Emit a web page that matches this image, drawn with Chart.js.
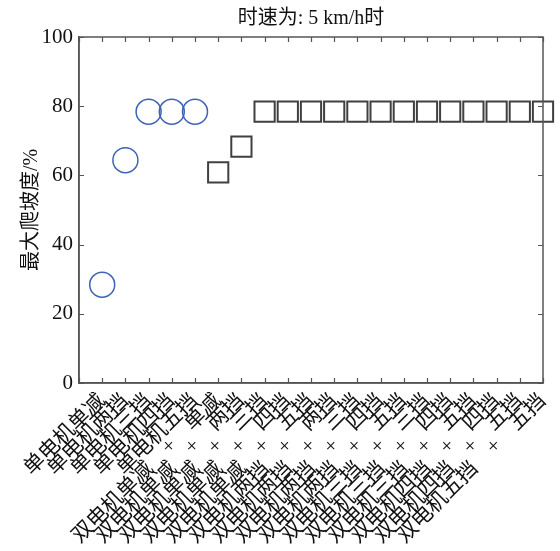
<!DOCTYPE html>
<html>
<head>
<meta charset="utf-8">
<script src="https://cdn.jsdelivr.net/npm/chart.js@4.4.0/dist/chart.umd.min.js"></script>
<style>
  html, body { margin: 0; padding: 0; background: #ffffff; }
  #c { display: block; }
</style>
</head>
<body>
<canvas id="c" width="560" height="551" style="width:560px;height:551px;"></canvas>
<script>
const titleText = '时速为: 5 km/h时';
const yTitle = '最大爬坡度/%';
const categories = [
  '单电机单减', '单电机两挡', '单电机三挡', '单电机四挡', '单电机五挡',
  '双电机单减+单减', '双电机单减+两挡', '双电机单减+三挡', '双电机单减+四挡', '双电机单减+五挡',
  '双电机两挡+两挡', '双电机两挡+三挡', '双电机两挡+四挡', '双电机两挡+五挡',
  '双电机三挡+三挡', '双电机三挡+四挡', '双电机三挡+五挡',
  '双电机四挡+四挡', '双电机四挡+五挡', '双电机五挡+五挡'
];
const singleMotorValues = [28.4, 64.4, 78.4, 78.4, 78.4];
const dualMotorValues = [60.9, 68.3, 78.4, 78.4, 78.4, 78.4, 78.4, 78.4, 78.4, 78.4, 78.4, 78.4, 78.4, 78.4, 78.4];
const yTicks = [0, 20, 40, 60, 80, 100];

const singlePoints = singleMotorValues.map((v, i) => ({ x: i + 1, y: v }));
const dualPoints = dualMotorValues.map((v, i) => ({ x: singleMotorValues.length + i + 1, y: v }));

// the reference sets the "+" with wide spacing around it
const displayLabel = (s) => s.replace('+', '\u2003+\u2003');

const serif = "'Liberation Serif', 'Times New Roman', 'Noto Sans CJK SC', serif";

const inwardTicks = {
  id: 'inwardTicks',
  afterDraw(chart) {
    const { ctx, chartArea: a, scales } = chart;
    const len = 5;
    ctx.save();
    ctx.strokeStyle = '#555555';
    ctx.lineWidth = 1.2;
    ctx.beginPath();
    scales.x.ticks.forEach(t => {
      const px = Math.round(scales.x.getPixelForValue(t.value)) + 0.5;
      ctx.moveTo(px, a.bottom); ctx.lineTo(px, a.bottom - len);
      ctx.moveTo(px, a.top); ctx.lineTo(px, a.top + len);
    });
    scales.y.ticks.forEach(t => {
      const py = Math.round(scales.y.getPixelForValue(t.value)) + 0.5;
      ctx.moveTo(a.left, py); ctx.lineTo(a.left + len, py);
      ctx.moveTo(a.right, py); ctx.lineTo(a.right - len, py);
    });
    ctx.stroke();
    ctx.lineWidth = 1.5;
    ctx.strokeRect(a.left, a.top, a.right - a.left, a.bottom - a.top);
    ctx.restore();
  }
};

new Chart(document.getElementById('c'), {
  type: 'scatter',
  data: {
    datasets: [
      {
        label: '单电机',
        data: singlePoints,
        pointStyle: 'circle',
        pointRadius: 12.5,
        pointHoverRadius: 12.5,
        pointBorderWidth: 1.5,
        borderColor: '#3d62b8',
        backgroundColor: 'rgba(0,0,0,0)',
        clip: false
      },
      {
        label: '双电机',
        data: dualPoints,
        pointStyle: 'rect',
        pointRadius: 14.3,
        pointHoverRadius: 14.3,
        pointBorderWidth: 2,
        borderColor: '#404040',
        backgroundColor: 'rgba(0,0,0,0)',
        clip: false
      }
    ]
  },
  options: {
    responsive: false,
    animation: false,
    devicePixelRatio: 1,
    layout: { padding: { left: 0, right: 17, top: 0, bottom: 0 } },
    plugins: {
      legend: { display: false },
      tooltip: { enabled: false },
      title: {
        display: true,
        text: titleText,
        fullSize: false,
        color: '#111111',
        font: { family: serif, size: 20, weight: 'normal' },
        padding: { top: 7, bottom: 6 }
      }
    },
    scales: {
      x: {
        type: 'linear',
        min: 0,
        max: categories.length,
        afterFit(scale) { scale.height = 168; scale.paddingLeft = 0; scale.paddingRight = 0; },
        grid: { display: false, drawTicks: false },
        border: { display: true, color: '#555555', width: 1.5 },
        ticks: {
          stepSize: 1,
          autoSkip: false,
          maxRotation: 45,
          minRotation: 45,
          padding: 6,
          color: '#111111',
          font: { family: serif, size: 21 },
          callback: (v) => (v >= 1 && v <= categories.length) ? displayLabel(categories[v - 1]) : ''
        }
      },
      y: {
        min: 0,
        max: 100,
        afterFit(scale) { scale.width = 79; scale.paddingTop = 0; scale.paddingBottom = 0; },
        afterBuildTicks(scale) { scale.ticks = yTicks.map(v => ({ value: v })); },
        grid: { display: false, drawTicks: false },
        border: { display: true, color: '#555555', width: 1.5 },
        title: {
          display: true,
          text: yTitle,
          color: '#111111',
          font: { family: serif, size: 20 },
          padding: { top: 20, bottom: 0 }
        },
        ticks: {
          padding: 6,
          color: '#111111',
          font: { family: serif, size: 21 }
        }
      }
    }
  },
  plugins: [inwardTicks]
});
</script>
</body>
</html>
